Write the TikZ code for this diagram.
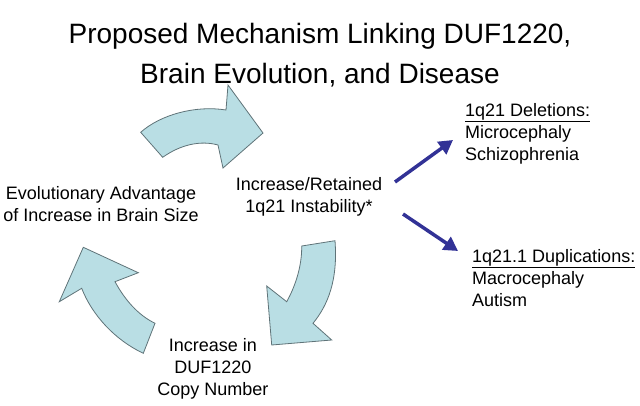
\documentclass[tikz,border=0pt]{standalone}
\usepackage{fontspec}
\setmainfont{Liberation Sans}
\usepackage{tikz}
\usetikzlibrary{arrows.meta,positioning}

\begin{document}
\begin{tikzpicture}[x=1pt,y=1pt,yscale=-1,
  txt/.style={font=\fontsize{18}{22}\selectfont,inner sep=0pt},
  bigarrow/.style={draw={rgb,255:red,95;green,115;blue,120},line width=0.8pt,fill={rgb,255:red,185;green,222;blue,228}},
  linkarrow/.style={draw={rgb,255:red,50;green,50;blue,150},line width=3.5pt,-{Triangle[length=14pt,width=15pt]}}]
%set diagram left start at 0, and has height of 405
\path (0,0) rectangle (640,405);

%Shape: Curved Arrow [id:top]
\draw [bigarrow] (140.7,132.3) .. controls (160,115) and (195,105) .. (226,110) -- (228,85) -- (263,133) -- (223,168) -- (218,145) .. controls (200,140) and (180,145) .. (162.7,157.3) -- cycle ;

%Shape: Curved Arrow [id:right]
\draw [bigarrow] (301.7,246) -- (335,240.7) .. controls (338,280) and (328,305) .. (313,323.3) -- (331.7,340) -- (271.7,345) -- (266.7,286) -- (286.7,301.7) .. controls (296,285) and (302,265) .. (301.7,246) -- cycle ;

%Shape: Curved Arrow [id:left]
\draw [bigarrow] (155,323.3) -- (143.3,353.3) .. controls (115,340) and (92,315) .. (81.7,288.3) -- (59.3,301.7) -- (83.3,247.3) -- (138.3,272.7) -- (115,281.7) .. controls (125,300) and (138,315) .. (155,323.3) -- cycle ;

% Text Node
\node (title) [font=\fontsize{28}{40}\selectfont,align=center,inner sep=0pt] at (320,55) {Proposed Mechanism Linking DUF1220,\\Brain Evolution, and Disease};
% Text Node
\node (advantage) [txt,align=center] at (101,204) {Evolutionary Advantage\\of Increase in Brain Size};
% Text Node
\node (instab) [txt,align=center] at (309,197) {Increase/Retained\\1q21 Instability*};
% Text Node
\node (copies) [txt,align=center] at (213,369) {Increase in\\DUF1220\\Copy Number};
% Text Node
\node (deletions) [txt,align=left,anchor=north west] at (465,103) {\underline{1q21 Deletions:}\\Microcephaly\\Schizophrenia};
% Text Node
\node (duplications) [txt,align=left,anchor=north west] at (472,249) {\underline{1q21.1 Duplications:}\\Macrocephaly\\Autism};

%Straight Lines [id:del]
\coordinate (delfrom) at (395,182);
\coordinate (delto) at (453,140);
\draw [linkarrow] (delfrom) -- (delto) ;
%Straight Lines [id:dup]
\coordinate (dupfrom) at (403,214);
\coordinate (dupto) at (458,251);
\draw [linkarrow] (dupfrom) -- (dupto) ;

\end{tikzpicture}
\end{document}
